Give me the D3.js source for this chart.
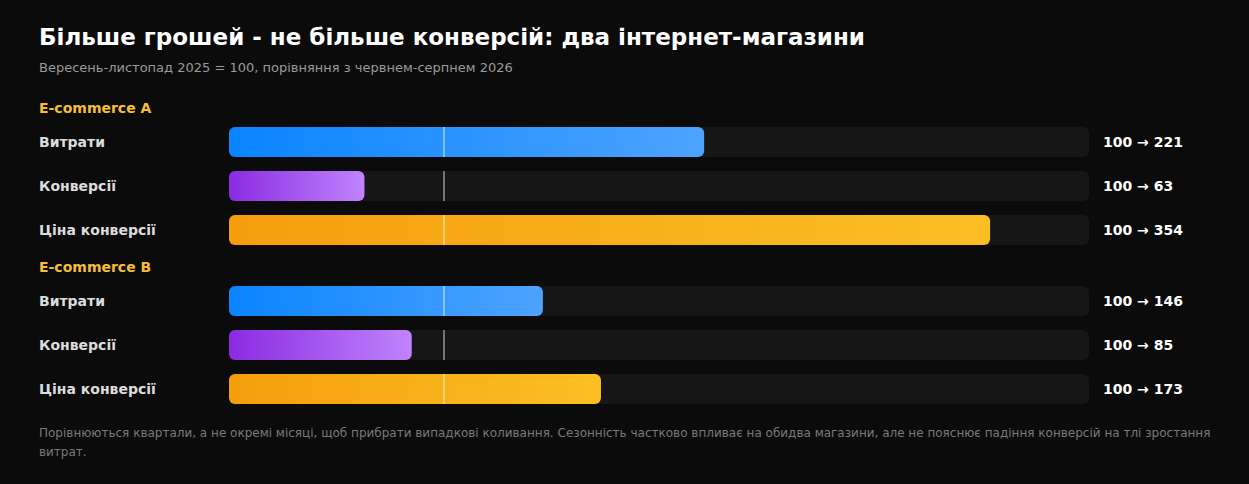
<!DOCTYPE html>
<html>
<head>
<meta charset="utf-8">
<script src="https://cdn.jsdelivr.net/npm/d3@7"></script>
<style>
  html, body { margin: 0; padding: 0; background: #0b0b0b; }
  svg { display: block; font-family: "DejaVu Sans", sans-serif; }
</style>
</head>
<body>
<svg id="chart" width="1249" height="484"></svg>
<script>
const groups = ['E-commerce A', 'E-commerce B']
const metrics = ['Витрати', 'Конверсії', 'Ціна конверсії']
const valuesA = [221, 63, 354]
const valuesB = [146, 85, 173]
const baseValue = 100
const title = 'Більше грошей - не більше конверсій: два інтернет-магазини'
const subtitle = 'Вересень-листопад 2025 = 100, порівняння з червнем-серпнем 2026'
const noteLines = [
  'Порівнюються квартали, а не окремі місяці, щоб прибрати випадкові коливання. Сезонність частково впливає на обидва магазини, але не пояснює падіння конверсій на тлі зростання',
  'витрат.'
]

const gradients = [
  ['#0a84ff', '#4da3ff'],
  ['#8a2be2', '#c084fc'],
  ['#f59e0b', '#fbbf24']
]

const svg = d3.select('#chart')
const defs = svg.append('defs')
gradients.forEach(function(g, i) {
  const lg = defs.append('linearGradient').attr('id', 'grad' + i)
    .attr('x1', '0%').attr('x2', '100%').attr('y1', '0%').attr('y2', '0%')
  lg.append('stop').attr('offset', '0%').attr('stop-color', g[0])
  lg.append('stop').attr('offset', '100%').attr('stop-color', g[1])
})

svg.append('text').attr('x', 39).attr('y', 45)
  .attr('fill', '#fff').attr('font-size', 23).attr('font-weight', 'bold')
  .text(title)
svg.append('text').attr('x', 39).attr('y', 71.5)
  .attr('fill', '#9a9a9a').attr('font-size', 13)
  .text(subtitle)

const x = d3.scaleLinear().domain([0, 400]).range([229, 1089])
const barH = 30
const data = [valuesA, valuesB]
const groupTop = [108, 267]

data.forEach(function(vals, gi) {
  const g = svg.append('g')
  g.append('text').attr('x', 39).attr('y', groupTop[gi])
    .attr('dominant-baseline', 'central')
    .attr('fill', '#f5bd3a').attr('font-size', 14).attr('font-weight', 'bold')
    .text(groups[gi])

  const rows = g.selectAll('g.row')
    .data(vals)
    .join('g')
    .attr('class', 'row')
    .attr('transform', function(d, i) { return `translate(0, ${groupTop[gi] + 34 + i * 44})` })

  rows.append('text').attr('x', 39).attr('y', 0)
    .attr('dominant-baseline', 'central')
    .attr('fill', '#dcdcdc').attr('font-size', 14).attr('font-weight', 'bold')
    .text(function(d, i) { return metrics[i] })

  rows.append('rect')
    .attr('x', x(0)).attr('y', -barH / 2)
    .attr('width', x(400) - x(0)).attr('height', barH)
    .attr('rx', 6).attr('fill', '#161616')

  rows.append('rect')
    .attr('x', x(0)).attr('y', -barH / 2)
    .attr('width', function(d) { return x(d) - x(0) }).attr('height', barH)
    .attr('rx', 6)
    .attr('fill', function(d, i) { return `url(#grad${i})` })

  rows.append('line')
    .attr('x1', x(baseValue)).attr('x2', x(baseValue))
    .attr('y1', -barH / 2).attr('y2', barH / 2)
    .attr('stroke', 'rgba(255,255,255,0.55)').attr('stroke-width', 1.5)

  rows.append('text').attr('x', 1103).attr('y', 0)
    .attr('dominant-baseline', 'central')
    .attr('fill', '#fff').attr('font-size', 14).attr('font-weight', 'bold')
    .text(function(d) { return `${baseValue} → ${d}` })
})

svg.append('g').selectAll('text')
  .data(noteLines)
  .join('text')
  .attr('x', 39)
  .attr('y', function(d, i) { return 436.5 + i * 19 })
  .attr('fill', '#7a7a7a').attr('font-size', 12)
  .text(function(d) { return d })
</script>
</body>
</html>
